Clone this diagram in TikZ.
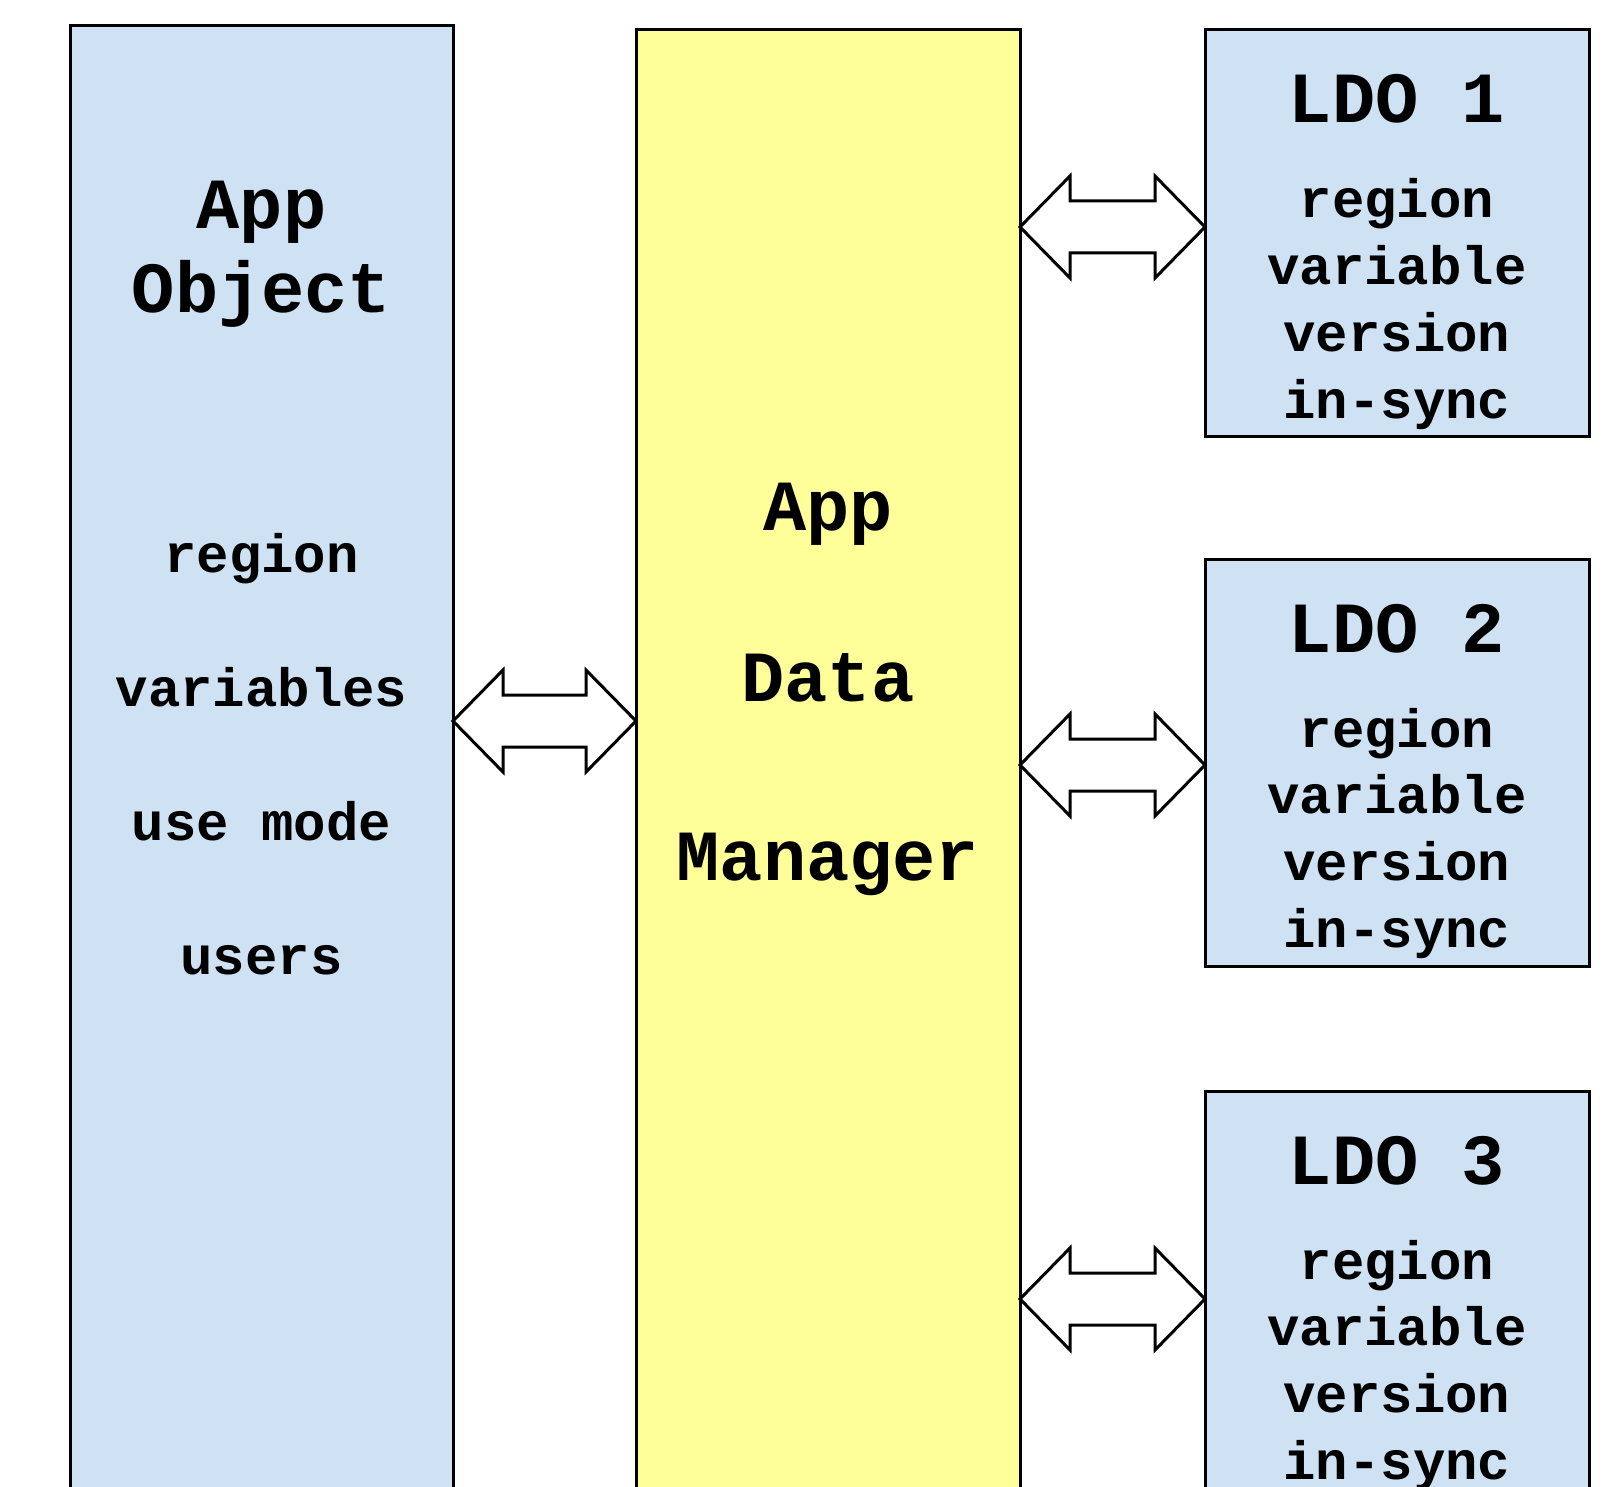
\documentclass[tikz,border=0pt]{standalone}
\usepackage{fontspec}
\setmonofont{Liberation Mono}
\usetikzlibrary{calc}
\definecolor{objblue}{HTML}{CFE2F3}
\definecolor{mgryellow}{HTML}{FFFF99}

\begin{document}
\begin{tikzpicture}[x=1pt,y=-1pt,
  box/.style={draw,line width=3pt,anchor=north west,inner sep=0pt,outer sep=0pt,minimum width=383pt},
  head/.style={font=\ttfamily\bfseries\fontsize{72}{86}\selectfont,anchor=base,inner sep=0pt},
  item/.style={font=\ttfamily\bfseries\fontsize{54}{64}\selectfont,anchor=base,inner sep=0pt},
  fat/.style={draw,line width=3pt,fill=white,line join=miter}]
\useasboundingbox (0,0) rectangle (1623,1487);
\clip (0,0) rectangle (1623,1487);
% the two tall columns
\node[box,fill=objblue,minimum height=1500pt] (ao) at (70,26) {};
\node[box,fill=mgryellow,minimum height=1500pt,minimum width=384pt] (adm) at (636,30) {};
\node[head] at ($(ao.north)+(0,203)$) {App};
\node[head] at ($(ao.north)+(0,287)$) {Object};
\foreach \t [count=\k from 0] in {region,variables,use mode,users}{
  \node[item] at ($(ao.north)+(0,546+134*\k)$) {\t};
}
\foreach \t/\d in {App/500,Data/671,Manager/850}{
  \node[head] at ($(adm.north)+(0,\d)$) {\t};
}
% the LDO boxes
\foreach \n/\y in {1/30,2/559,3/1091}{
  \node[box,fill=objblue,minimum height=407pt,minimum width=384pt] (ldo\n) at (1205,\y) {};
  \node[head] at ($(ldo\n.north)+(0,93)$) {LDO \n};
  \foreach \t [count=\k from 0] in {region,variable,version,in-sync}{
    \node[item] at ($(ldo\n.north)+(0,188+66.7*\k)$) {\t};
  }
}
% double arrows
\foreach \a/\b/\r in {ao/adm/721,adm/ldo1/227,adm/ldo2/765,adm/ldo3/1299}{
  \coordinate (r) at (0,\r);
  \coordinate (p) at (\a.east |- r);
  \coordinate (q) at (\b.west |- r);
  \draw[fat] (p) -- ++(50,-51) -- ++(0,25) -- ($(q)+(-50,-26)$) -- ++(0,-25) -- (q)
    -- ++(-50,51) -- ++(0,-25) -- ($(p)+(50,26)$) -- ++(0,25) -- cycle;
}
\end{tikzpicture}
\end{document}
